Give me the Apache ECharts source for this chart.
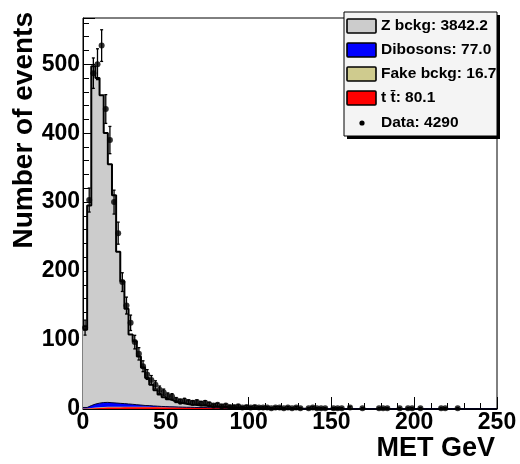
<!DOCTYPE html>
<html><head><meta charset="utf-8">
<script src="https://cdn.jsdelivr.net/npm/echarts@6/dist/echarts.min.js"></script>
<style>html,body{margin:0;padding:0;background:#fff}#c{width:520px;height:464px}</style>
</head><body><div id="c"></div>
<script>
// ---- data (2.5 GeV bins from 0 to 250 GeV) ----
const binWidth = 2.5;
const xRange = [0, 250];
const yRange = [0, 567];
const zBckg = [
 112.9,290.2,490.0,471.6,445.7,390.5,346.0,301.4,219.9,177.3,
 137.9,101.3,91.9,70.4,55.0,40.2,30.7,23.0,17.4,13.6,
 10.9,9.0,7.2,5.9,5.1,4.1,3.8,3.5,3.0,2.6,
 2.3,2.05,1.75,1.6,1.4,1.2,1.1,1.0,0.9,0.8,
 0.85,0.75,0.65,0.65,0.55,0.5,0.55,0.5,0.45,0.4,
 0.35,0.3,0.25,0.2,0.15,0.15,0.1,0.05,0.05,0.05,
 0.05,0.05,0.05,0.05,0.05,0.05,0.05,0.05,0.05,0.05,
 0.03,0.03,0.03,0.03,0.03,0.03,0.03,0.03,0.03,0.03,
 0.02,0.02,0.02,0.02,0.02,0.02,0.02,0.02,0.02,0.02,
 0.02,0.02,0.02,0.02,0.02,0.02,0.02,0.02,0.02,0.02];
const dibosons = [
 1.5,3.5,5,6,6.5,6.5,6,5.5,5,4.5,
 4,3.5,3,2.5,2,1.8,1.5,1.2,1.0,0.8,
 0.7,0.6,0.5,0.4,0.3,0.3,0.2,0.2,0.2,0.2,
 0.2,0.15,0.15,0.1,0.1,0.1,0.1,0.1,0.1,0.1,
 0.05,0.05,0.05,0.05,0.05,0.05,0.05,0.05,0.05,0.05,
 0.05,0.05,0.05,0.05,0.05,0.05,0.05,0.05,0.05,0.05,
 0,0,0,0,0,0,0,0,0,0, 0,0,0,0,0,0,0,0,0,0,
 0,0,0,0,0,0,0,0,0,0, 0,0,0,0,0,0,0,0,0,0];
const fakeBckg = [
 0.3,0.6,0.9,1.0,1.1,1.1,1.0,1.0,0.9,0.9,
 0.8,0.8,0.7,0.7,0.6,0.6,0.5,0.5,0.4,0.4,
 0.3,0.3,0.3,0.2,0.2,0.2,0.2,0.1,0.1,0.1,
 0,0,0,0,0,0,0,0,0,0, 0,0,0,0,0,0,0,0,0,0,
 0,0,0,0,0,0,0,0,0,0, 0,0,0,0,0,0,0,0,0,0,
 0,0,0,0,0,0,0,0,0,0, 0,0,0,0,0,0,0,0,0,0,
 0,0,0,0,0,0,0,0,0,0];
const ttbar = [
 0.4,0.8,1.2,1.5,1.8,2.0,2.1,2.2,2.3,2.4,
 2.5,2.5,2.5,2.5,2.5,2.5,2.4,2.4,2.3,2.3,
 2.2,2.2,2.1,2.1,2.0,2.0,1.9,1.8,1.8,1.7,
 1.6,1.5,1.4,1.3,1.2,1.1,1.0,0.9,0.8,0.7,
 0.6,0.5,0.4,0.3,0.2,0.1,0,0,0,0,
 0,0,0,0,0,0,0,0,0,0, 0,0,0,0,0,0,0,0,0,0,
 0,0,0,0,0,0,0,0,0,0, 0,0,0,0,0,0,0,0,0,0,
 0,0,0,0,0,0,0,0,0,0];
const dataCounts = [
 118,303,487,500,527,435,390,300,255,184,
 150,125,97,80,62,50,42,35,28,24,
 19,18,13,11,12,10,9,10,8,9,
 7,5,6,4,5,3,3,4,2,3,
 2,3,2,2,2,1,2,2,1,2,
 1,2,1,0,1,2,1,1,1,0,
 1,1,1,0,2,0,0,1,0,0,
 0,1,1,1,0,0,1,0,1,1,
 0,1,0,0,0,0,1,1,0,0,
 1,0,0,0,0,0,0,0,0,0];
const seriesNames = ['Z bckg', 'Dibosons', 'Fake bckg', 't t\u0304', 'Data'];
const legendLabels = ['Z bckg: 3842.2', 'Dibosons: 77.0', 'Fake bckg: 16.7', 't t\u0304: 80.1', 'Data: 4290'];
const colors = ['#cccccc', '#0000ff', '#cfcb8e', '#ff0000', '#000000'];
const xTitle = 'MET GeV';
const yTitle = 'Number of events';

// ---- build ----
const FONT = 'Liberation Sans';
// stack order from bottom: ttbar, fake, dibosons, Z
const layers = [ttbar, fakeBckg, dibosons, zBckg];
const cumulative = [];
let run = new Array(zBckg.length).fill(0);
layers.forEach(arr => { run = run.map((v, i) => v + arr[i]); cumulative.push(run.slice()); });

function stepPoints(arr) {
  const pts = arr.map((v, i) => [i * binWidth, v]);
  pts.push([arr.length * binWidth, arr[arr.length - 1]]);
  return pts;
}
function histSeries(name, arr, fill, line, lw) {
  return {
    name, type: 'line', step: 'end', symbol: 'none',
    data: stepPoints(arr), silent: true,
    lineStyle: { color: line, width: lw, opacity: lw > 0 ? 1 : 0 },
    areaStyle: { color: fill, opacity: 1, origin: 'start' },
    itemStyle: { color: fill }
  };
}
const dataPts = [];
dataCounts.forEach((n, i) => { if (n > 0) dataPts.push([(i + 0.5) * binWidth, n, Math.sqrt(n)]); });

const chart = echarts.init(document.getElementById('c'), null, { renderer: 'canvas' });

const legendGraphics = [];
const lgX = 344, lgY = 12, lgW = 153, lgH = 124;
legendGraphics.push({ type: 'rect', shape: { x: lgX + 3, y: lgY + 3, width: lgW, height: lgH }, style: { fill: '#000' }, z: 100 });
legendGraphics.push({ type: 'rect', shape: { x: lgX, y: lgY, width: lgW, height: lgH }, style: { fill: '#f4f4f4', stroke: '#000', lineWidth: 1 }, z: 101 });
const rowY = [26, 50, 74, 98, 123];
for (let k = 0; k < 5; k++) {
  if (k < 4) {
    legendGraphics.push({ type: 'rect', shape: { x: 347, y: rowY[k] - 7, width: 29, height: 14, r: 1 }, style: { fill: colors[k], stroke: '#000', lineWidth: 1.6 }, z: 102 });
  } else {
    legendGraphics.push({ type: 'circle', shape: { cx: 362, cy: rowY[k], r: 2.6 }, style: { fill: '#000' }, z: 102 });
  }
  legendGraphics.push({ type: 'text', x: 381, y: rowY[k], style: { text: legendLabels[k], font: 'bold 15.5px "' + FONT + '"', fill: '#000', align: 'left', verticalAlign: 'middle' }, z: 103 });
}

chart.setOption({
  animation: false,
  backgroundColor: '#fff',
  grid: { left: 83, right: 23, top: 18, bottom: 55, show: true, borderColor: '#000', borderWidth: 1, backgroundColor: 'transparent', outerBoundsMode: 'none' },
  xAxis: {
    type: 'value', min: xRange[0], max: xRange[1], interval: 50,
    axisLine: { lineStyle: { color: '#000', width: 1 } },
    axisTick: { inside: true, length: 12, lineStyle: { color: '#000' } },
    minorTick: { show: true, splitNumber: 5, length: 6, lineStyle: { color: '#000' } },
    splitLine: { show: false },
    axisLabel: { color: '#000', fontFamily: FONT, fontWeight: 'bold', fontSize: 23, margin: 2 }
  },
  yAxis: {
    type: 'value', min: yRange[0], max: yRange[1], interval: 100,
    axisLine: { show: true, lineStyle: { color: '#000', width: 1 } },
    axisTick: { show: true, inside: true, length: 12, lineStyle: { color: '#000' } },
    minorTick: { show: true, splitNumber: 5, length: 6, lineStyle: { color: '#000' } },
    splitLine: { show: false },
    axisLabel: { color: '#000', fontFamily: FONT, fontWeight: 'bold', fontSize: 23, margin: 3, showMaxLabel: false }
  },
  graphic: [
    { type: 'text', x: 495, y: 449, style: { text: xTitle, font: 'bold 27px "' + FONT + '"', fill: '#000', align: 'right', verticalAlign: 'middle' } },
    { type: 'text', x: 24, y: 12, rotation: Math.PI / 2, style: { text: yTitle, font: 'bold 28px "' + FONT + '"', fill: '#000', align: 'right', verticalAlign: 'middle' } }
  ].concat(legendGraphics),
  series: [
    histSeries(seriesNames[0], cumulative[3], colors[0], '#000', 2),
    histSeries(seriesNames[1], cumulative[2], colors[1], '#000033', 1),
    histSeries(seriesNames[2], cumulative[1], colors[2], colors[2], 0),
    histSeries(seriesNames[3], cumulative[0], colors[3], colors[3], 0),
    {
      name: seriesNames[4] + ' errors', type: 'custom', silent: true, z: 5,
      data: dataPts,
      encode: { x: 0, y: 1 },
      renderItem: function (params, api) {
        const x = api.value(0), y = api.value(1), e = api.value(2);
        const top = api.coord([x, y + e]);
        const bot = api.coord([x, Math.max(y - e, 0)]);
        return { type: 'group', children: [
          { type: 'line', shape: { x1: top[0], y1: top[1], x2: bot[0], y2: bot[1] }, style: { stroke: '#000', lineWidth: 1.3 } },
          { type: 'line', shape: { x1: top[0] - 1.5, y1: top[1], x2: top[0] + 1.5, y2: top[1] }, style: { stroke: '#000', lineWidth: 1.3 } },
          { type: 'line', shape: { x1: bot[0] - 1.5, y1: bot[1], x2: bot[0] + 1.5, y2: bot[1] }, style: { stroke: '#000', lineWidth: 1.3 } }
        ] };
      }
    },
    {
      name: seriesNames[4], type: 'scatter', z: 6, silent: true,
      data: dataPts.map(p => [p[0], p[1]]),
      symbol: 'circle', symbolSize: 6,
      itemStyle: { color: '#000' }
    }
  ]
});
</script>
</body></html>
